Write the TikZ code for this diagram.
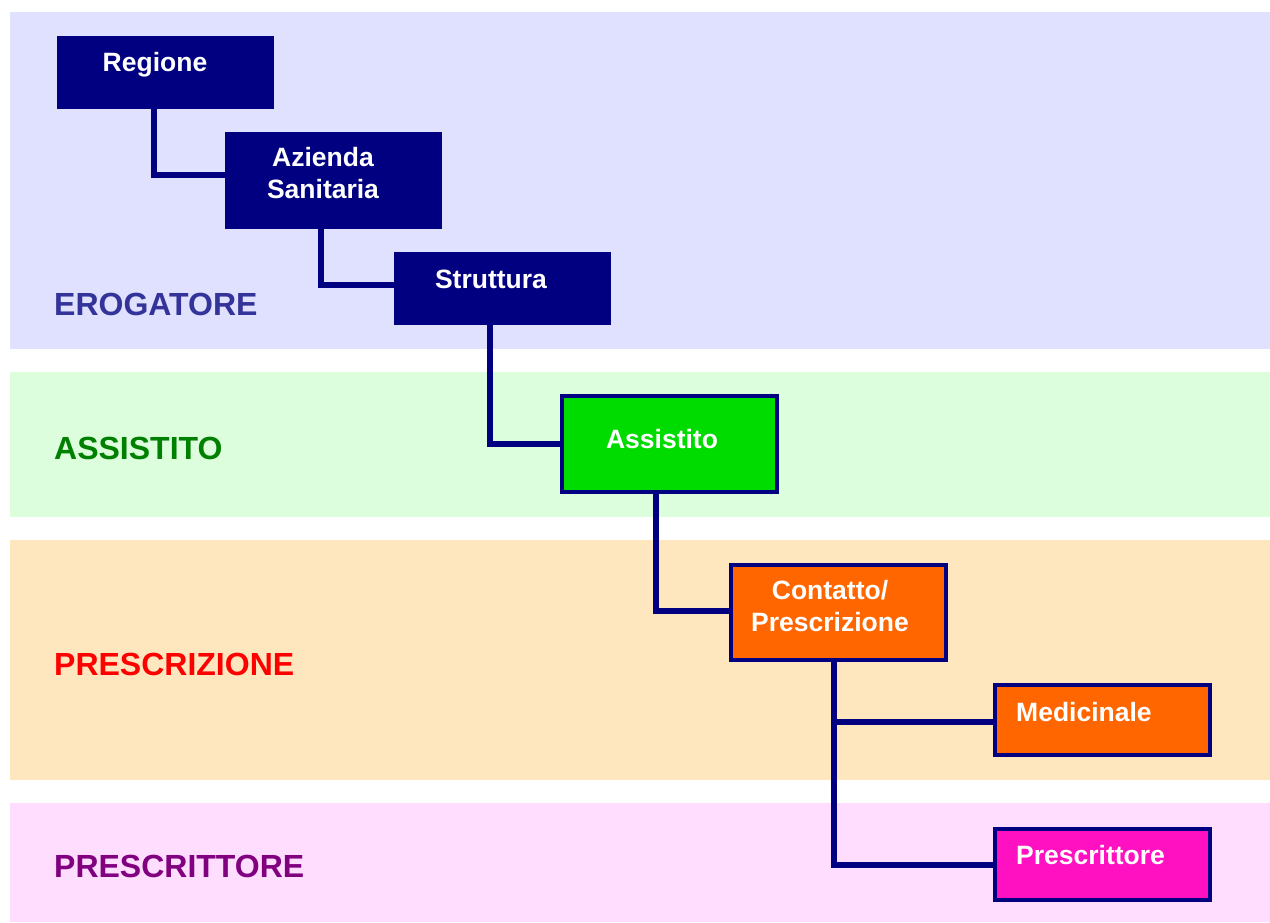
\documentclass[tikz,border=0pt]{standalone}
\usepackage{fontspec}
\setmainfont{Liberation Sans}
\definecolor{navyc}{HTML}{000080}
\definecolor{bandA}{HTML}{E0E0FF}
\definecolor{bandB}{HTML}{DCFEDC}
\definecolor{bandC}{HTML}{FEE7BE}
\definecolor{bandD}{HTML}{FEDDFE}
\definecolor{greenbox}{HTML}{00DC00}
\definecolor{orangebox}{HTML}{FF6600}
\definecolor{magbox}{HTML}{FF10C0}
\definecolor{lblA}{HTML}{333399}
\definecolor{lblB}{HTML}{008000}
\definecolor{lblC}{HTML}{FF0000}
\definecolor{lblD}{HTML}{800080}
\tikzset{
  band/.style={fill=#1, draw=none},
  navybox/.style={rectangle, fill=navyc, draw=none, inner sep=0pt},
  colbox/.style={rectangle, fill=#1, draw=navyc, line width=4pt, inner sep=0pt},
  boxtext/.style={text=white, font=\fontsize{26.5}{31.5}\selectfont\bfseries, inner sep=0pt, align=center},
  bandlabel/.style={font=\fontsize{32}{37}\selectfont\bfseries, inner sep=0pt, anchor=base west},
  conn/.style={draw=navyc, line width=6pt}
}
\begin{document}
\begin{tikzpicture}[x=1pt, y=-1pt]
\useasboundingbox (0,0) rectangle (1270,922);
% bands
\fill[band=bandA] (10,12) rectangle (1270,349);
\fill[band=bandB] (10,372) rectangle (1270,517);
\fill[band=bandC] (10,540) rectangle (1270,780);
\fill[band=bandD] (10,803) rectangle (1270,922);
% band labels
\node[bandlabel, text=lblA] (lA) at (54,315) {EROGATORE};
\node[bandlabel, text=lblB] (lB) at (54,459) {ASSISTITO};
\node[bandlabel, text=lblC] (lC) at (54,675) {PRESCRIZIONE};
\node[bandlabel, text=lblD] (lD) at (54,877) {PRESCRITTORE};
% boxes
\node[navybox, minimum width=217pt, minimum height=73pt] (reg) at (165.5,72.5) {};
\node[navybox, minimum width=217pt, minimum height=97pt] (az) at (333.5,180.5) {};
\node[navybox, minimum width=217pt, minimum height=73pt] (str) at (502.5,288.5) {};
\node[colbox=greenbox, minimum width=215pt, minimum height=96pt] (ass) at (669.5,444) {};
\node[colbox=orangebox, minimum width=215pt, minimum height=95pt] (con) at (838.5,612.5) {};
\node[colbox=orangebox, minimum width=215pt, minimum height=70pt] (med) at (1102.5,720) {};
\node[colbox=magbox, minimum width=215pt, minimum height=71pt] (pre) at (1102.5,864.5) {};
% connectors
\draw[conn] ([xshift=97pt]reg.south west) |- ([yshift=6pt]az.west);
\draw[conn] ([xshift=96pt]az.south west) |- ([yshift=4pt]str.west);
\draw[conn] ([xshift=96pt]str.south west) |- (ass.west);
\draw[conn] ([xshift=96pt]ass.south west) |- ([yshift=1.5pt]con.west);
\draw[conn] ([xshift=105pt]con.south west) |- ([yshift=-2pt]med.west);
\draw[conn] ([xshift=105pt]con.south west) |- (pre.west);
% box texts
\node[boxtext, anchor=base] (regt) at (155,71) {Regione};
\node[boxtext, anchor=base] (azt) at (323,198) {Azienda\\Sanitaria};
\node[boxtext, anchor=base] (strt) at (491,288) {Struttura};
\node[boxtext, anchor=base] (asst) at (662,448) {Assistito};
\node[boxtext, anchor=base] (cont) at (830,631) {Contatto/\\Prescrizione};
\node[boxtext, anchor=base west] (medt) at (1016,721) {Medicinale};
\node[boxtext, anchor=base west] (pret) at (1016,864) {Prescrittore};
\end{tikzpicture}
\end{document}
